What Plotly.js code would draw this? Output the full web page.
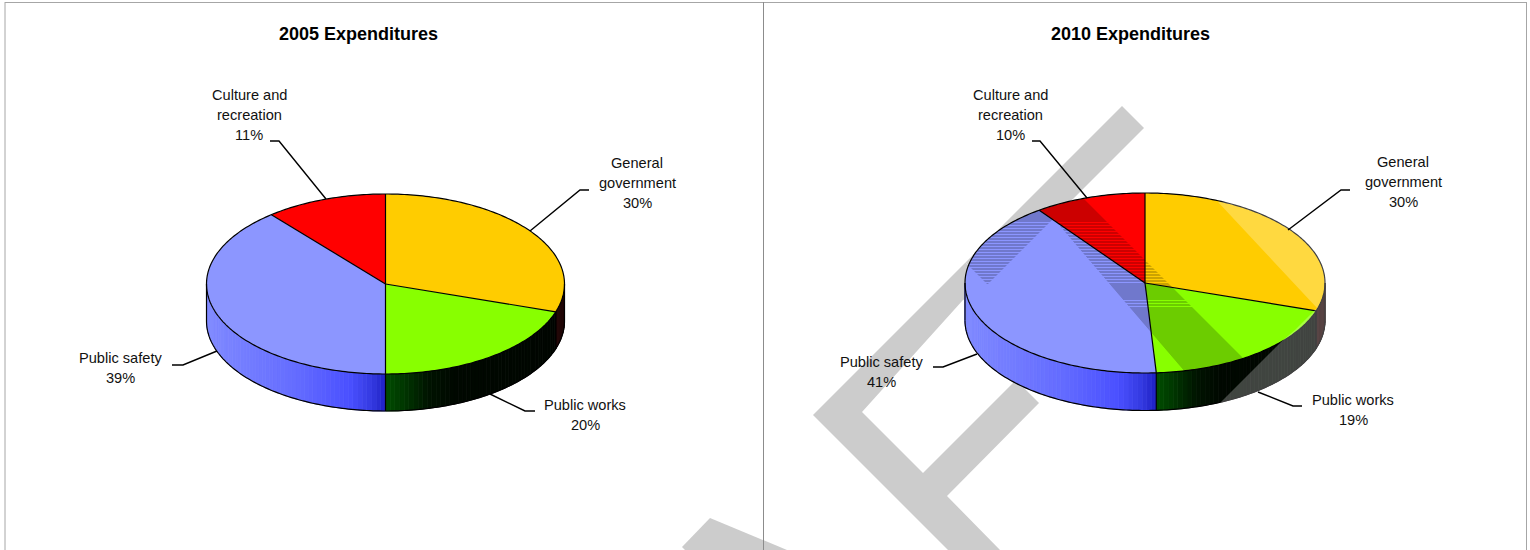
<!DOCTYPE html>
<html>
<head>
<meta charset="utf-8">
<script src="https://cdn.plot.ly/plotly-3.0.1.min.js"></script>
<style>html,body{margin:0;padding:0;background:#fff}#chart{width:1530px;height:550px}</style>
</head>
<body>
<div id="chart"></div>
<script>
// Expenditure shares by function, in percent
const categories = ["General government", "Public works", "Public safety", "Culture and recreation"];
const values2005 = [30, 20, 39, 11];
const values2010 = [30, 19, 41, 10];
const sliceColors = ["#FFCC00", "#88FF00", "#8C96FF", "#FF0000"];
const labelLines = [["General", "government"], ["Public works"], ["Public safety"], ["Culture and", "recreation"]];
const panelTitles = ["2005 Expenditures", "2010 Expenditures"];

// Pie geometry on the page-sized axes
const pie2005 = {cx: 385.5, cy: 284, rx: 179, ry: 90, depth: 37};
const pie2010 = {cx: 1145, cy: 283, rx: 180, ry: 90, depth: 37.5};

// Label anchors (first line centre) and leader polylines, in category order
const labelAnchors2005 = [[637, 163], [585, 405], [120, 358], [249, 95]];
const labelAnchors2010 = [[1403, 162], [1353, 400], [881, 362], [1010, 95]];
const leaders2005 = [
  [[530, 231], [580, 190], [589, 190]],
  [[490, 394], [525, 411], [535, 411]],
  [[217, 351], [183, 365], [172, 365]],
  [[326, 199], [279, 141], [270, 141]]
];
const leaders2010 = [
  [[1288, 230], [1341, 190], [1350, 190]],
  [[1258, 392], [1293, 406], [1302, 406]],
  [[977, 354], [943, 367], [933, 367]],
  [[1087, 198], [1040, 141], [1032, 141]]
];

// Diagonal sheet watermark: outlines of the letter strokes
const watermarkA = [[710, 518], [682, 547], [685, 550], [787, 550]];
const watermarkF = [[813, 415], [965.5, 262.5], [990, 290], [963, 300], [862, 412], [923, 473],
  [1016, 380], [1039, 403], [947, 496], [1000, 550], [948, 550]];
const watermarkBar = [[1122, 106], [1144, 128], [987.5, 284.5], [965.5, 262.5]];
const watermarkStem = [[1078.5, 193.5], [1253.5, 368.5], [1203.5, 393.5], [1053.5, 218.5]];
const watermarkPale = [[1218, 202], [1317, 308], [1295, 330], [1282, 341], [1220, 403], [1300, 425], [1345, 310], [1300, 195]];

const BLUE_WALL = [[0, [128, 138, 255]], [0.5, [100, 108, 255]], [0.8, [74, 80, 255]], [0.92, [52, 58, 225]], [1, [30, 32, 195]]];
const GREEN_WALL = [[0, [0, 76, 0]], [0.1, [0, 56, 0]], [0.25, [0, 20, 0]], [0.4, [0, 8, 0]], [1, [0, 6, 0]]];
const GOLD_WALL = [[0, [30, 4, 4]], [1, [30, 4, 4]]];
const wallStops = [GOLD_WALL, GREEN_WALL, BLUE_WALL, GOLD_WALL];

const rad = d => d * Math.PI / 180;
const px = (p, t) => p.cx + p.rx * Math.sin(rad(t));
const py = (p, t, dz = 0) => p.cy - p.ry * Math.cos(rad(t)) + dz;

function mix(stops, f) {
  for (let i = 1; i < stops.length; i++) {
    if (f <= stops[i][0]) {
      const a = stops[i - 1], b = stops[i], k = (f - a[0]) / (b[0] - a[0] || 1);
      const c = a[1].map((v, j) => Math.round(v + (b[1][j] - v) * k));
      return `rgb(${c[0]},${c[1]},${c[2]})`;
    }
  }
  const last = stops[stops.length - 1][1];
  return `rgb(${last[0]},${last[1]},${last[2]})`;
}

function area(x, y, fill) {
  return {type: "scatter", mode: "lines", x, y, fill: "toself", fillcolor: fill,
    line: {width: 0}, hoverinfo: "skip", showlegend: false, xaxis: "x", yaxis: "y"};
}
function stroke(x, y, width, color) {
  return {type: "scatter", mode: "lines", x, y, line: {width, color, simplify: false},
    hoverinfo: "skip", showlegend: false, connectgaps: false};
}

function sliceAngles(values) {
  const total = values.reduce((a, b) => a + b, 0);
  let run = 0;
  return values.map(v => { const s = run; run += v; return [s / total * 360, run / total * 360]; });
}

function wallTraces(p, values) {
  const out = [];
  sliceAngles(values).forEach(([a, b], i) => {
    const lo = Math.max(a, 90), hi = Math.min(b, 270);
    if (hi <= lo) return;
    const xa = px(p, lo), xb = px(p, hi);
    const xL = Math.min(xa, xb), xR = Math.max(xa, xb);
    const step = 1.5;
    for (let t = lo; t < hi; t += step) {
      const e = Math.min(t + step, hi);
      const f = ((px(p, t) + px(p, e)) / 2 - xL) / (xR - xL || 1);
      const tr = area(
        [px(p, t), px(p, e), px(p, e), px(p, t), px(p, t)],
        [py(p, t), py(p, e), py(p, e, p.depth), py(p, t, p.depth), py(p, t)],
        mix(wallStops[i], f));
      tr.line = {width: 0.8, color: mix(wallStops[i], f)};
      out.push(tr);
    }
  });
  return out;
}

function faceTraces(p, values) {
  return sliceAngles(values).map(([a, b], i) => {
    const xs = [p.cx], ys = [p.cy];
    for (let t = a; t < b; t += 1) { xs.push(px(p, t)); ys.push(py(p, t)); }
    xs.push(px(p, b), p.cx); ys.push(py(p, b), p.cy);
    return area(xs, ys, sliceColors[i]);
  });
}

function outlineTrace(p, values) {
  const xs = [], ys = [];
  for (let t = 0; t <= 360; t += 1) { xs.push(px(p, t)); ys.push(py(p, t)); }
  xs.push(null); ys.push(null);
  for (let t = 90; t <= 270; t += 1) { xs.push(px(p, t)); ys.push(py(p, t, p.depth)); }
  xs.push(null); ys.push(null);
  sliceAngles(values).forEach(([a]) => {
    xs.push(p.cx, px(p, a), null); ys.push(p.cy, py(p, a), null);
    if (a > 90 && a < 270) { xs.push(px(p, a), px(p, a), null); ys.push(py(p, a), py(p, a, p.depth), null); }
  });
  xs.push(p.cx - p.rx, p.cx - p.rx, null); ys.push(p.cy, p.cy + p.depth, null);
  xs.push(p.cx + p.rx, p.cx + p.rx, null); ys.push(p.cy, p.cy + p.depth, null);
  return stroke(xs, ys, 1.2, "#000");
}

// Horizontal span of a convex outline at one pixel row
function rowSpan(poly, y) {
  let lo = Infinity, hi = -Infinity;
  poly.forEach((q, i) => {
    const r = poly[(i + 1) % poly.length];
    if ((q[1] <= y && r[1] > y) || (r[1] <= y && q[1] > y)) {
      const x = q[0] + (y - q[1]) / (r[1] - q[1]) * (r[0] - q[0]);
      lo = Math.min(lo, x); hi = Math.max(hi, x);
    }
  });
  return lo < hi ? [lo, hi] : null;
}

// The print tint over the top face is banded in some row ranges
function rowIsTinted(y) {
  const striped = (y >= 221 && y < 285) || (y >= 300 && y < 308);
  return !striped || y % 3 !== 0;
}

function tintTrace(p, polys) {
  const xs = [], ys = [];
  const top = Math.ceil(p.cy - p.ry), bottom = Math.floor(p.cy + p.ry);
  for (let y = top; y < bottom; y++) {
    if (!rowIsTinted(y)) continue;
    const m = y + 0.5, k = (m - p.cy) / p.ry;
    if (Math.abs(k) >= 1) continue;
    const half = p.rx * Math.sqrt(1 - k * k);
    polys.forEach(poly => {
      const s = rowSpan(poly, m);
      if (!s) return;
      const l = Math.max(s[0], p.cx - half), r = Math.min(s[1], p.cx + half);
      if (r > l) { xs.push(l, r, r, l, l, null); ys.push(y, y, y + 1, y + 1, y, null); }
    });
  }
  return area(xs, ys, "rgba(0,0,0,0.2)");
}

function polygonArea(points, fill) {
  return area(points.concat([points[0]]).map(q => q[0]), points.concat([points[0]]).map(q => q[1]), fill);
}

function leaderTrace(lines) {
  const xs = [], ys = [];
  lines.forEach(l => { l.forEach(q => { xs.push(q[0]); ys.push(q[1]); }); xs.push(null); ys.push(null); });
  return stroke(xs, ys, 1.4, "#000");
}

const traces = [
  polygonArea(watermarkA, "#CCCCCC"),
  polygonArea(watermarkF, "#CCCCCC"),
  polygonArea(watermarkBar, "#CCCCCC"),
  ...wallTraces(pie2005, values2005),
  ...faceTraces(pie2005, values2005),
  outlineTrace(pie2005, values2005),
  ...wallTraces(pie2010, values2010),
  ...faceTraces(pie2010, values2010),
  tintTrace(pie2010, [watermarkBar, watermarkStem]),
  outlineTrace(pie2010, values2010),
  polygonArea(watermarkPale, "rgba(255,255,255,0.25)"),
  leaderTrace(leaders2005),
  leaderTrace(leaders2010)
];

function labelAnnotations(anchors, values) {
  const out = [];
  categories.forEach((c, i) => {
    const lines = labelLines[i].concat([values[i] + "%"]);
    lines.forEach((text, j) => {
      out.push({x: anchors[i][0], y: anchors[i][1] + j * 20, text, xref: "x", yref: "y",
        showarrow: false, xanchor: "center", yanchor: "middle",
        font: {family: "Liberation Sans, Arial, sans-serif", size: 14.6, color: "#111"}});
    });
  });
  return out;
}

const titleAnnotations = panelTitles.map((text, i) => ({
  x: [358, 1130][i], y: 34, text: "<b>" + text + "</b>", xref: "x", yref: "y", showarrow: false,
  xanchor: "center", yanchor: "middle",
  font: {family: "Liberation Sans, Arial, sans-serif", size: 18, color: "#000"}
}));

const frame = [
  {type: "line", x0: 5, x1: 5, y0: 2, y1: 550, line: {color: "#a6a6a6", width: 1}},
  {type: "line", x0: 5, x1: 1526.5, y0: 2.5, y1: 2.5, line: {color: "#a6a6a6", width: 1}},
  {type: "line", x0: 1526.5, x1: 1526.5, y0: 2, y1: 550, line: {color: "#a6a6a6", width: 1}},
  {type: "line", x0: 763.5, x1: 763.5, y0: 2, y1: 550, line: {color: "#8c8c8c", width: 1}}
].map(s => Object.assign({xref: "x", yref: "y", layer: "above"}, s));

const layout = {
  width: 1530, height: 550,
  margin: {l: 0, r: 0, t: 0, b: 0, pad: 0},
  paper_bgcolor: "#fff", plot_bgcolor: "#fff",
  showlegend: false,
  xaxis: {range: [0, 1530], visible: false, fixedrange: true},
  yaxis: {range: [550, 0], visible: false, fixedrange: true},
  shapes: frame,
  annotations: [
    ...titleAnnotations,
    ...labelAnnotations(labelAnchors2005, values2005),
    ...labelAnnotations(labelAnchors2010, values2010)
  ]
};

Plotly.newPlot("chart", traces, layout, {displayModeBar: false, staticPlot: true});
</script>
</body>
</html>
